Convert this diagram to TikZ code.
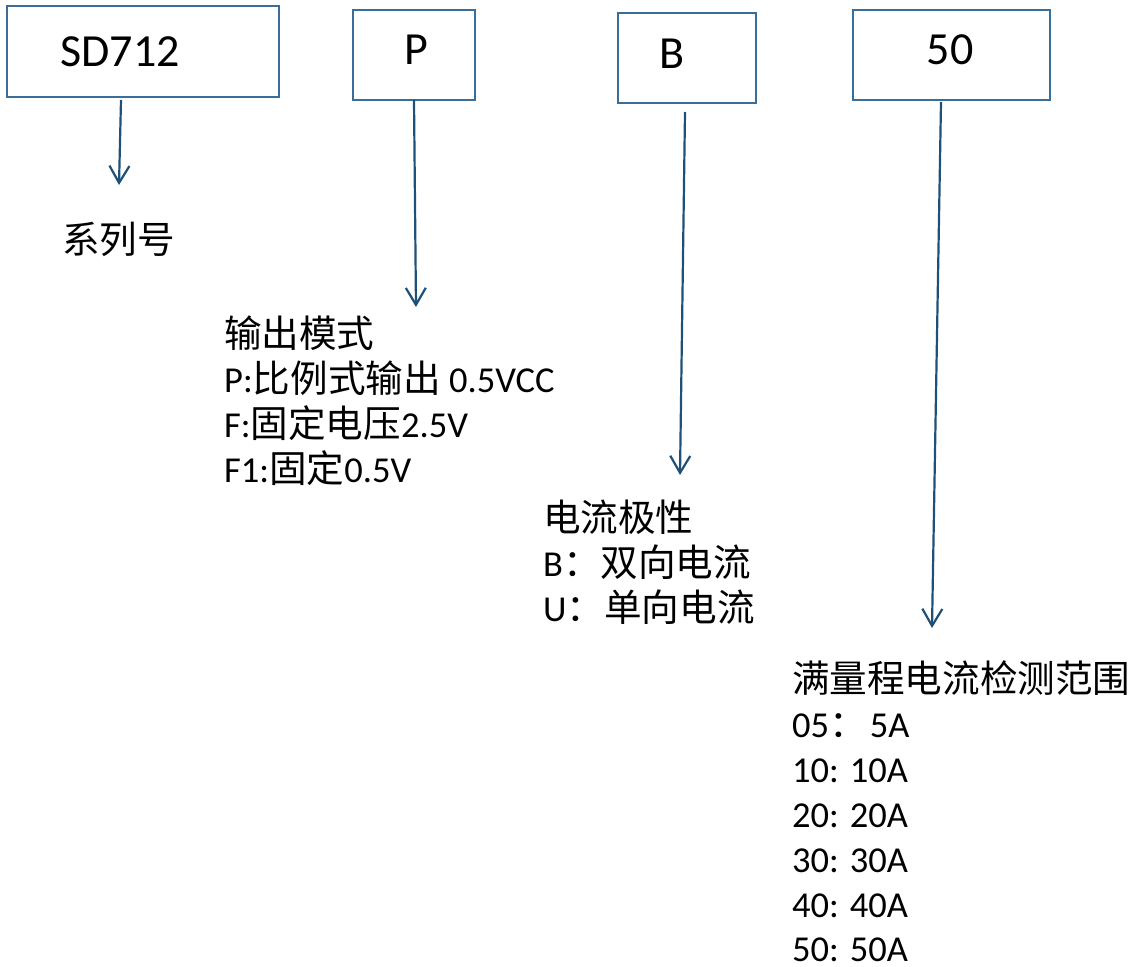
\documentclass[tikz,border=0pt]{standalone}
\usepackage{fontspec}
\setmainfont{Carlito}
\newfontfamily\cjk[Scale=1.03]{Noto Sans CJK SC}
\usetikzlibrary{arrows.meta}
\definecolor{boxblue}{HTML}{3A6D98}
\definecolor{arrowblue}{HTML}{1F5078}
\begin{document}
\begin{tikzpicture}[x=1pt,y=-1pt,
  codebox/.style={draw=boxblue, line width=2pt, fill=white, inner sep=0pt},
  boxtext/.style={font=\fontsize{46}{50}\selectfont, inner sep=0pt, text=black},
  lbl/.style={font=\fontsize{36.5}{45}\selectfont, anchor=base west, inner sep=0pt, text=black},
  conn/.style={draw=arrowblue, line width=2.2pt, -{Straight Barb[length=17pt,width=20pt,line width=2.2pt]}}]
\useasboundingbox (0,0) rectangle (1136,967);

% code boxes
\node[codebox, minimum width=272pt, minimum height=91pt,
  label={[boxtext, name=sdt, xshift=-23pt]center:SD712}] (sd) at (143,51.5) {};
\node[codebox, minimum width=122pt, minimum height=90pt,
  label={[boxtext, name=pt, xshift=2pt, yshift=5pt]center:P}] (pb) at (414,55) {};
\node[codebox, minimum width=138pt, minimum height=90pt,
  label={[boxtext, name=bt, xshift=-14.5pt, yshift=4pt]center:B}] (bb) at (687,58) {};
\node[codebox, minimum width=197pt, minimum height=90pt,
  label={[boxtext, name=rt, xshift=-1.5pt, yshift=5pt]center:50}] (rb) at (951.5,55) {};

% connector end points
\coordinate (sd-a) at (121,100);
\coordinate (sd-b) at (119,185);
\coordinate (p-a) at (414,100);
\coordinate (p-b) at (416,307);
\coordinate (b-a) at (685,112);
\coordinate (b-b) at (680,475);
\coordinate (r-a) at (941,102);
\coordinate (r-b) at (932,628);

\draw[conn] (sd-a) -- (sd-b);
\draw[conn] (p-a) -- (p-b);
\draw[conn] (b-a) -- (b-b);
\draw[conn] (r-a) -- (r-b);

% labels
\node[lbl] (series) at (62,253) {\cjk 系列号};

\node[lbl] (out0) at (224,347) {\cjk 输出模式};
\node[lbl] (out1) at (224,392) {P:{\cjk 比例式输出} 0.5VCC};
\node[lbl] (out2) at (224,437) {F:{\cjk 固定电压}2.5V};
\node[lbl] (out3) at (224,482) {F1:{\cjk 固定}0.5V};

\node[lbl] (pol0) at (543,531) {\cjk 电流极性};
\node[lbl] (pol1) at (543,576) {B{\cjk ：双向电流}};
\node[lbl] (pol2) at (543,621) {U{\cjk ：单向电流}};

\node[lbl] (rng0) at (792,692) {\cjk 满量程电流检测范围};
\node[lbl] (rng1) at (792,737) {05{\cjk ：}\hspace{3pt}5A};
\node[lbl] (rng2) at (792,782) {10: 10A};
\node[lbl] (rng3) at (792,827) {20: 20A};
\node[lbl] (rng4) at (792,872) {30: 30A};
\node[lbl] (rng5) at (792,917) {40: 40A};
\node[lbl] (rng6) at (792,961) {50: 50A};
\end{tikzpicture}
\end{document}
